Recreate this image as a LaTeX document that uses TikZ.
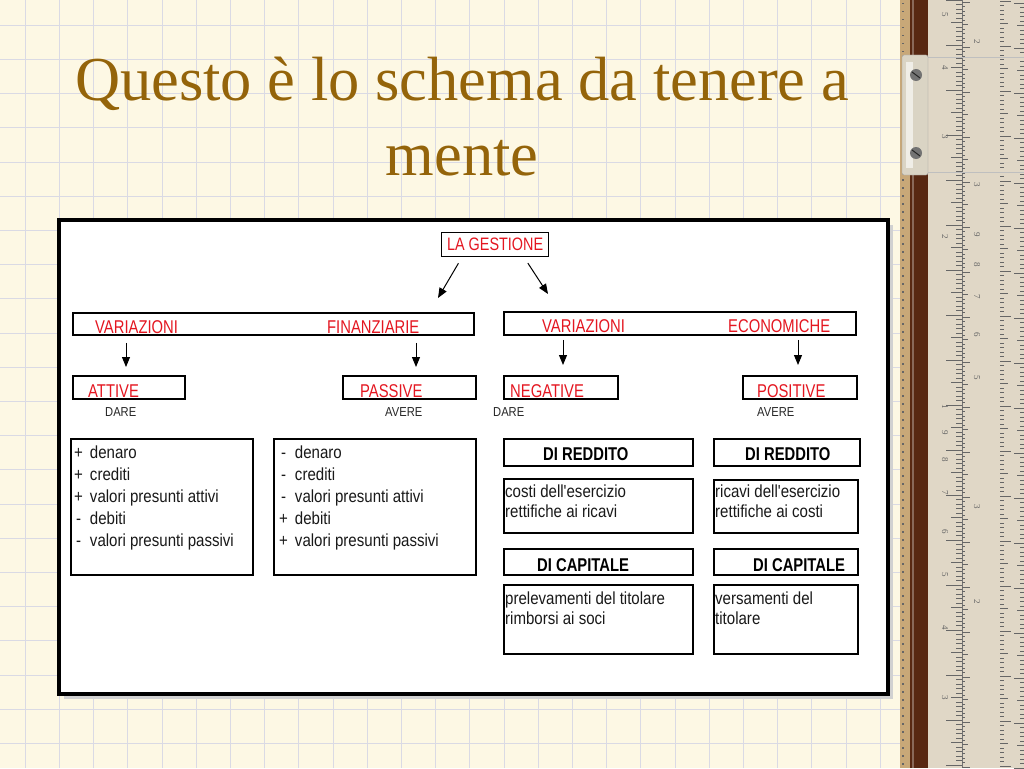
\documentclass[tikz,border=0pt]{standalone}
\usepackage{fontspec}
\setmainfont{Liberation Serif}
\newfontfamily\hdfont[FakeStretch=0.8]{Liberation Sans}
\newfontfamily\txfont[FakeStretch=0.86]{Liberation Sans}
\usepackage{xcolor}
\usetikzlibrary{arrows.meta,calc}
\definecolor{paper}{RGB}{253,248,228}
\definecolor{gridline}{RGB}{218,218,228}
\definecolor{titlegold}{RGB}{148,100,10}
\definecolor{headred}{RGB}{228,22,32}
\definecolor{inkgray}{RGB}{40,40,40}
\definecolor{rulerbg}{RGB}{224,215,198}
\definecolor{rulerbrown}{RGB}{88,40,18}
\definecolor{rulertan}{RGB}{200,168,120}
\definecolor{metal}{RGB}{218,212,196}

\begin{document}
\begin{tikzpicture}[x=1pt, y=-1pt]
  % Styles for boxes, headings and list text
  \tikzstyle{box} = [draw=black, line width=1.8pt, fill=white, inner sep=0pt, anchor=north west]
  \tikzstyle{head} = [font=\hdfont\fontsize{18.5}{20}\selectfont, text=headred, inner sep=0pt, anchor=base west]
  \tikzstyle{side} = [font=\txfont\fontsize{13}{15}\selectfont, text=inkgray, inner sep=0pt, anchor=base west]
  \tikzstyle{sub} = [font=\hdfont\bfseries\fontsize{18.5}{20}\selectfont, inner sep=0pt, anchor=base west]
  \tikzstyle{body} = [font=\txfont\fontsize{17.5}{20}\selectfont, text=black!90, inner sep=0pt, anchor=base west]
  \tikzstyle{arr} = [-{Triangle[length=10pt,width=8pt]}, line width=1pt]
  \tikzstyle{tick} = [black!60, line width=0.7pt]
  \tikzstyle{digit} = [font=\fontsize{9}{9}\selectfont, text=black!60, rotate=-90, inner sep=0pt]

  % Paper background with grid
  \fill[paper] (0,0) rectangle (1024,768);
  \useasboundingbox (0,0) rectangle (1024,768);
  \foreach \g in {0,...,26} { \draw[gridline, line width=0.6pt] (25+34.2*\g,0) -- (25+34.2*\g,768); }
  \foreach \g in {0,...,22} { \draw[gridline, line width=0.6pt] (0,25+34.2*\g) -- (1024,25+34.2*\g); }

  % Slide rule on the right
  \fill[rulertan] (900,0) rectangle (910,768);
  \foreach \t in {0,...,96} { \fill[black!60] (902,8*\t+3) rectangle (904,8*\t+4.5); }
  \fill[rulerbrown] (910,0) rectangle (928,768);
  \fill[rulerbrown!70!white] (912,0) rectangle (914,768);
  \fill[rulerbg] (928,0) rectangle (1024,768);
  \draw[black!55, line width=0.8pt] (962,0) -- (962,768);
  \foreach \t in {0,...,170} {
    \pgfmathsetmacro{\tl}{ifthenelse(mod(\t,10)==0,16,ifthenelse(mod(\t,5)==0,11,6))}
    \draw[tick] (962-\tl,4.5*\t) -- (962,4.5*\t);
    \draw[tick] (962,4.5*\t+2) -- (962+\tl*0.5,4.5*\t+2);
    \draw[tick] (1000,4.5*\t+1) -- (1000+\tl*0.7,4.5*\t+1);
    \draw[tick] (1024-\tl*0.6,4.5*\t+3) -- (1024,4.5*\t+3);
  }
  \draw[black!25] (928,57) -- (1024,57);
  \draw[black!25] (928,172) -- (1024,172);
  \foreach \y/\d in {15/5,68/4,137/3,237/2,407/1,433/9,460/8,493/7,532/6,575/5,628/4,698/3} {
    \node[digit] (rd\y) at (945,\y) {\d};
  }
  \foreach \y/\d in {42/2,185/3,235/9,265/8,297/7,335/6,378/5,507/3,602/2} {
    \node[digit] (re\y) at (977,\y) {\d};
  }
  \filldraw[fill=metal, draw=black!40, rounded corners=2pt] (902,55) rectangle (928,175);
  \fill[white!60!metal] (906,62) rectangle (913,168);
  \foreach \s in {75,153} {
    \fill[black!55] (916,\s) circle (6pt);
    \draw[black!85, line width=1pt] (912,\s-3) -- (920,\s+3);
  }

  % Title
  \node[font=\fontsize{62.5}{70}\selectfont, text=titlegold, anchor=base, inner sep=0pt] (ttla) at (462,100) {Questo è lo schema da tenere a};
  \node[font=\fontsize{62.5}{70}\selectfont, text=titlegold, anchor=base, inner sep=0pt] (ttlb) at (462,175) {mente};

  % White panel with shadow
  \fill[black!18] (64,225) rectangle (893,699);
  \fill[black!35] (61,222) rectangle (890,696);
  \node[draw=black, line width=3.5pt, fill=white, minimum width=829pt, minimum height=474pt, anchor=north west, inner sep=0pt] (panel) at (57,218) {};

  % Top node
  \node[box, line width=1.2pt, minimum width=107pt, minimum height=24pt, font=\hdfont\fontsize{18}{20}\selectfont, text=headred] (gest) at (441,232) {LA GESTIONE};

  % Variazioni finanziarie / economiche
  \node[box, minimum width=401pt, minimum height=22pt] (finbox) at (72,312) {};
  \node[box, minimum width=352pt, minimum height=23pt] (ecobox) at (503,311) {};
  \node[head] (finv) at (95,333) {VARIAZIONI};
  \node[head] (finf) at (327,333) {FINANZIARIE};
  \node[head] (ecov) at (542,332) {VARIAZIONI};
  \node[head] (ecoe) at (728,332) {ECONOMICHE};

  % Attive, passive, negative, positive
  \node[box, minimum width=112pt, minimum height=23pt] (attbox) at (72,375) {};
  \node[box, minimum width=133pt, minimum height=23pt] (pasbox) at (342,375) {};
  \node[box, minimum width=114pt, minimum height=23pt] (negbox) at (503,375) {};
  \node[box, minimum width=114pt, minimum height=23pt] (posbox) at (742,375) {};
  \node[head] (attt) at (88,397) {ATTIVE};
  \node[head] (past) at (360,397) {PASSIVE};
  \node[head] (negt) at (510,397) {NEGATIVE};
  \node[head] (post) at (757,397) {POSITIVE};
  \node[side] (attd) at (105,416) {DARE};
  \node[side] (pasa) at (385,416) {AVERE};
  \node[side] (negd) at (493,416) {DARE};
  \node[side] (posa) at (757,416) {AVERE};

  % Financial lists
  \node[box, minimum width=182pt, minimum height=136pt] (attlist) at (70,438) {};
  \node[box, minimum width=202pt, minimum height=136pt] (paslist) at (273,438) {};
  \node[body, font=\txfont\fontsize{17.5}{22.2}\selectfont] (atttxt) at (74,458) {\begin{tabular}[t]{@{}c@{\hspace{7pt}}l@{}}
    + & denaro\\ + & crediti\\ + & valori presunti attivi\\ - & debiti\\ - & valori presunti passivi\end{tabular}};
  \node[body, font=\txfont\fontsize{17.5}{22.2}\selectfont] (pastxt) at (279,458) {\begin{tabular}[t]{@{}c@{\hspace{7pt}}l@{}}
    - & denaro\\ - & crediti\\ - & valori presunti attivi\\ + & debiti\\ + & valori presunti passivi\end{tabular}};

  % Economic boxes
  \node[box, minimum width=189pt, minimum height=27pt] (negred) at (503,438) {};
  \node[box, minimum width=146pt, minimum height=27pt] (posred) at (713,438) {};
  \node[box, minimum width=189pt, minimum height=54pt] (negredl) at (503,478) {};
  \node[box, minimum width=144pt, minimum height=53pt] (posredl) at (713,479) {};
  \node[box, minimum width=189pt, minimum height=26pt] (negcap) at (503,548) {};
  \node[box, minimum width=144pt, minimum height=26pt] (poscap) at (713,548) {};
  \node[box, minimum width=189pt, minimum height=69pt] (negcapl) at (503,584) {};
  \node[box, minimum width=144pt, minimum height=69pt] (poscapl) at (713,584) {};
  \node[sub] (negredh) at (543,460) {DI REDDITO};
  \node[sub] (posredh) at (745,460) {DI REDDITO};
  \node[sub] (negcaph) at (537,571) {DI CAPITALE};
  \node[sub] (poscaph) at (753,571) {DI CAPITALE};
  \node[body] (negredt) at (505,497) {\begin{tabular}[t]{@{}l@{}}costi dell'esercizio\\ rettifiche ai ricavi\end{tabular}};
  \node[body] (posredt) at (715,497) {\begin{tabular}[t]{@{}l@{}}ricavi dell'esercizio\\ rettifiche ai costi\end{tabular}};
  \node[body] (negcapt) at (505,604) {\begin{tabular}[t]{@{}l@{}}prelevamenti del titolare\\ rimborsi ai soci\end{tabular}};
  \node[body] (poscapt) at (715,604) {\begin{tabular}[t]{@{}l@{}}versamenti del\\ titolare\end{tabular}};

  % Arrows
  \coordinate (finin) at ([xshift=366pt,yshift=14pt]finbox.north west);
  \coordinate (ecoin) at ([xshift=45pt,yshift=17pt]ecobox.north west);
  \draw[arr, shorten <=7pt] ([xshift=21pt]gest.south west) -- (finin);
  \draw[arr, shorten <=7pt] ([xshift=83pt]gest.south west) -- (ecoin);
  \draw[arr, shorten <=7pt, shorten >=8pt] ([xshift=54pt]finbox.south west) -- ([xshift=54pt]attbox.north west);
  \draw[arr, shorten <=7pt, shorten >=8pt] ([xshift=344pt]finbox.south west) -- ([xshift=74pt]pasbox.north west);
  \draw[arr, shorten <=4pt, shorten >=10pt] ([xshift=60pt]ecobox.south west) -- ([xshift=60pt]negbox.north west);
  \draw[arr, shorten <=4pt, shorten >=10pt] ([xshift=295pt]ecobox.south west) -- ([xshift=56pt]posbox.north west);
\end{tikzpicture}
\end{document}
